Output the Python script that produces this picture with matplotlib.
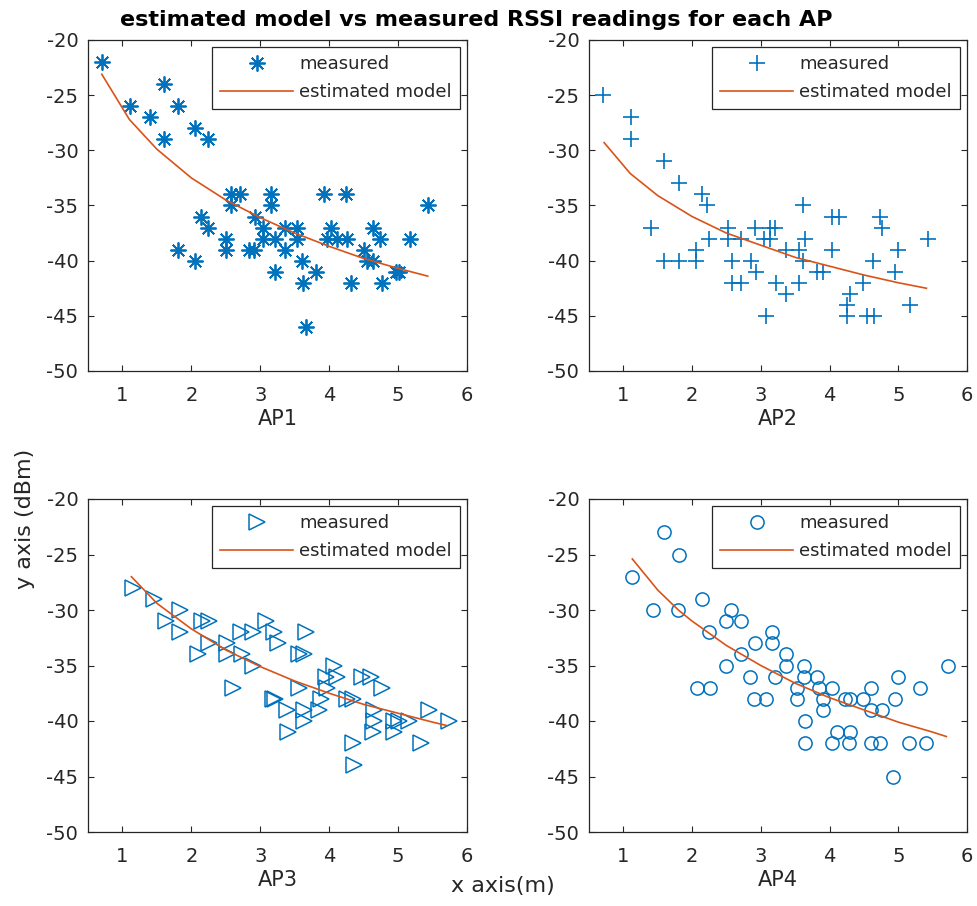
import matplotlib
matplotlib.use("Agg")
import matplotlib.pyplot as plt

plt.rcParams['font.family'] = ['DejaVu Sans']
plt.rcParams['axes.unicode_minus'] = False

# ---------------- data ----------------
ap1_x = [0.70, 1.11, 1.40, 1.60, 1.60, 1.80, 2.05, 2.24, 1.80, 2.05, 2.14, 2.24, 2.50, 2.50,
         2.58, 2.58, 2.71, 2.84, 2.91, 2.92, 3.04, 3.04, 3.16, 3.16, 3.22, 3.22, 3.36, 3.36,
         3.54, 3.54, 3.61, 3.62, 3.66, 3.81, 3.92, 3.97, 4.03, 4.12, 4.25, 4.26, 4.31, 4.50,
         4.55, 4.63, 4.64, 4.74, 4.76, 4.97, 5.01, 5.17, 5.44]
ap1_y = [-22, -26, -27, -24, -29, -26, -28, -29, -39, -40, -36, -37, -38, -39,
         -34, -35, -34, -39, -39, -36, -37, -38, -34, -35, -38, -41, -37, -39,
         -37, -38, -40, -42, -46, -41, -34, -38, -37, -38, -34, -38, -42, -39,
         -40, -37, -40, -38, -42, -41, -41, -38, -35]
ap1_model_x = [0.70, 1.10, 1.50, 2.00, 2.50, 3.00, 3.50, 4.00, 4.50, 5.00, 5.43]
ap1_model_y = [-23.1, -27.2, -29.9, -32.5, -34.5, -36.1, -37.5, -38.7, -39.8, -40.7, -41.4]

ap2_x = [0.70, 1.11, 1.11, 1.40, 1.59, 1.59, 1.81, 1.81, 2.05, 2.05, 2.14, 2.22, 2.25, 2.52,
         2.52, 2.58, 2.58, 2.71, 2.71, 2.85, 2.92, 2.93, 3.04, 3.07, 3.14, 3.14, 3.21, 3.22,
         3.36, 3.37, 3.55, 3.55, 3.62, 3.62, 3.65, 3.82, 3.91, 4.03, 4.14, 4.03, 4.25, 4.25,
         4.30, 4.49, 4.54, 4.64, 4.63, 4.73, 4.76, 4.95, 5.00, 5.17, 5.43]
ap2_y = [-25, -27, -29, -37, -31, -40, -33, -40, -39, -40, -34, -35, -38, -37,
         -38, -40, -42, -42, -38, -40, -37, -41, -38, -45, -37, -38, -37, -42,
         -39, -43, -42, -39, -35, -40, -38, -41, -41, -36, -36, -39, -45, -44,
         -43, -42, -45, -45, -40, -36, -37, -41, -39, -44, -38]
ap2_model_x = [0.72, 1.10, 1.50, 2.00, 2.50, 3.00, 3.50, 4.00, 4.50, 5.00, 5.41]
ap2_model_y = [-29.3, -32.1, -34.1, -36.0, -37.5, -38.6, -39.7, -40.5, -41.3, -42.0, -42.5]

ap3_x = [1.15, 1.46, 1.84, 1.63, 1.84, 2.15, 2.26, 2.09, 2.26, 2.52, 2.52, 2.60, 2.72, 2.74,
         2.90, 2.89, 3.08, 3.20, 3.25, 3.18, 3.22, 3.39, 3.40, 3.66, 3.56, 3.64, 3.56, 3.64,
         3.64, 3.88, 3.85, 3.95, 4.07, 4.12, 3.97, 4.26, 4.34, 4.34, 4.36, 4.48, 4.60, 4.77,
         4.65, 4.65, 4.63, 4.94, 4.94, 5.01, 5.16, 5.45, 5.33, 5.74]
ap3_y = [-28, -29, -30, -31, -32, -31, -31, -34, -33, -33, -34, -37, -32, -34,
         -32, -35, -31, -32, -33, -38, -38, -39, -41, -32, -34, -34, -37, -39,
         -40, -38, -39, -36, -35, -36, -37, -38, -38, -42, -44, -36, -36, -37,
         -39, -40, -41, -40, -41, -40, -40, -39, -42, -40]
ap3_model_x = [1.13, 1.50, 2.00, 2.50, 3.00, 3.50, 4.00, 4.50, 5.00, 5.50, 5.70]
ap3_model_y = [-27.0, -29.4, -31.7, -33.6, -35.1, -36.4, -37.5, -38.5, -39.3, -40.1, -40.4]

ap4_x = [1.12, 1.59, 1.81, 1.43, 1.80, 2.07, 2.26, 2.14, 2.25, 2.49, 2.49, 2.57, 2.71, 2.71,
         2.84, 2.92, 2.90, 3.07, 3.16, 3.16, 3.20, 3.36, 3.36, 3.53, 3.53, 3.63, 3.63, 3.65,
         3.65, 3.82, 3.84, 3.91, 3.91, 4.03, 4.03, 4.11, 4.23, 4.30, 4.30, 4.29, 4.49, 4.61,
         4.61, 4.61, 4.73, 4.77, 4.95, 5.00, 4.92, 5.16, 5.31, 5.41, 5.72]
ap4_y = [-27, -23, -25, -30, -30, -37, -37, -29, -32, -35, -31, -30, -31, -34,
         -36, -33, -38, -38, -32, -33, -36, -34, -35, -37, -38, -35, -36, -40,
         -42, -36, -37, -38, -39, -37, -42, -41, -38, -38, -41, -42, -38, -37,
         -39, -42, -42, -39, -38, -36, -45, -42, -37, -42, -35]
ap4_model_x = [1.13, 1.50, 1.80, 2.00, 2.50, 3.00, 3.50, 4.00, 4.50, 5.00, 5.50, 5.70]
ap4_model_y = [-25.4, -28.2, -30.0, -31.0, -33.2, -35.0, -36.6, -37.9, -39.0, -40.1, -41.0, -41.4]

ap_names = ['AP1', 'AP2', 'AP3', 'AP4']
legend_labels = ['measured', 'estimated model']
x_ticks = [1, 2, 3, 4, 5, 6]
y_ticks = [-20, -25, -30, -35, -40, -45, -50]

# ---------------- styling ----------------
W, H = 978, 906
fig = plt.figure(figsize=(W / 100, H / 100), dpi=100)

blue = '#0072BD'
orange = '#D95319'
dark = '#262626'

def px_axes(left, top, right, bottom):
    return [left / W, 1 - bottom / H, (right - left) / W, (bottom - top) / H]

boxes = [px_axes(88, 40, 467, 371), px_axes(589, 40, 967, 371),
         px_axes(88, 499, 467, 832), px_axes(589, 499, 967, 832)]

series = [
    (ap1_x, ap1_y, ap1_model_x, ap1_model_y, dict(marker=(8, 2, 0), ms=11.5, mew=1.3, mfc=blue)),
    (ap2_x, ap2_y, ap2_model_x, ap2_model_y, dict(marker='+', ms=12, mew=1.2)),
    (ap3_x, ap3_y, ap3_model_x, ap3_model_y, dict(marker='>', ms=11, mew=1.1, mfc='none')),
    (ap4_x, ap4_y, ap4_model_x, ap4_model_y, dict(marker='o', ms=9.5, mew=1.1, mfc='none')),
]

for i, (box, (mx, my, lx, ly, mk)) in enumerate(zip(boxes, series)):
    ax = fig.add_axes(box)
    ax.plot(mx, my, linestyle='none', color=blue, mec=blue, label=legend_labels[0], **mk)
    ax.plot(lx, ly, color=orange, lw=1.2, label=legend_labels[1])
    ax.set_xlim(0.5, 6)
    ax.set_ylim(-50, -20)
    ax.set_xticks(x_ticks)
    ax.set_yticks(y_ticks)
    ax.tick_params(direction='in', top=True, right=True, length=4, width=0.8,
                   colors=dark, labelsize=14)
    ax.tick_params(axis='x', pad=11)
    ax.tick_params(axis='y', pad=7)
    for s in ax.spines.values():
        s.set_color(dark)
        s.set_linewidth(0.9)
    ax.set_xlabel(ap_names[i], fontsize=15, color=dark, labelpad=3)
    leg = ax.legend(loc='upper right', fontsize=13, frameon=True, fancybox=False,
                    edgecolor=dark, framealpha=1, borderaxespad=0.4,
                    handlelength=4.0, handletextpad=0.35, borderpad=0.45,
                    labelspacing=0.55, markerfirst=True)
    leg.get_frame().set_linewidth(0.9)
    for t in leg.get_texts():
        t.set_color(dark)

fig.text(476 / W, 1 - 20 / H, 'estimated model vs measured RSSI readings for each AP',
         ha='center', va='center', fontsize=16, fontweight='bold', color='black')
fig.text(25 / W, 1 - 519 / H, 'y axis (dBm)', rotation=90, ha='center', va='center',
         fontsize=16, color=dark)
fig.text(503 / W, 1 - 886 / H, 'x axis(m)', ha='center', va='center',
         fontsize=16, color=dark)

fig.savefig('out.png', dpi=100)
